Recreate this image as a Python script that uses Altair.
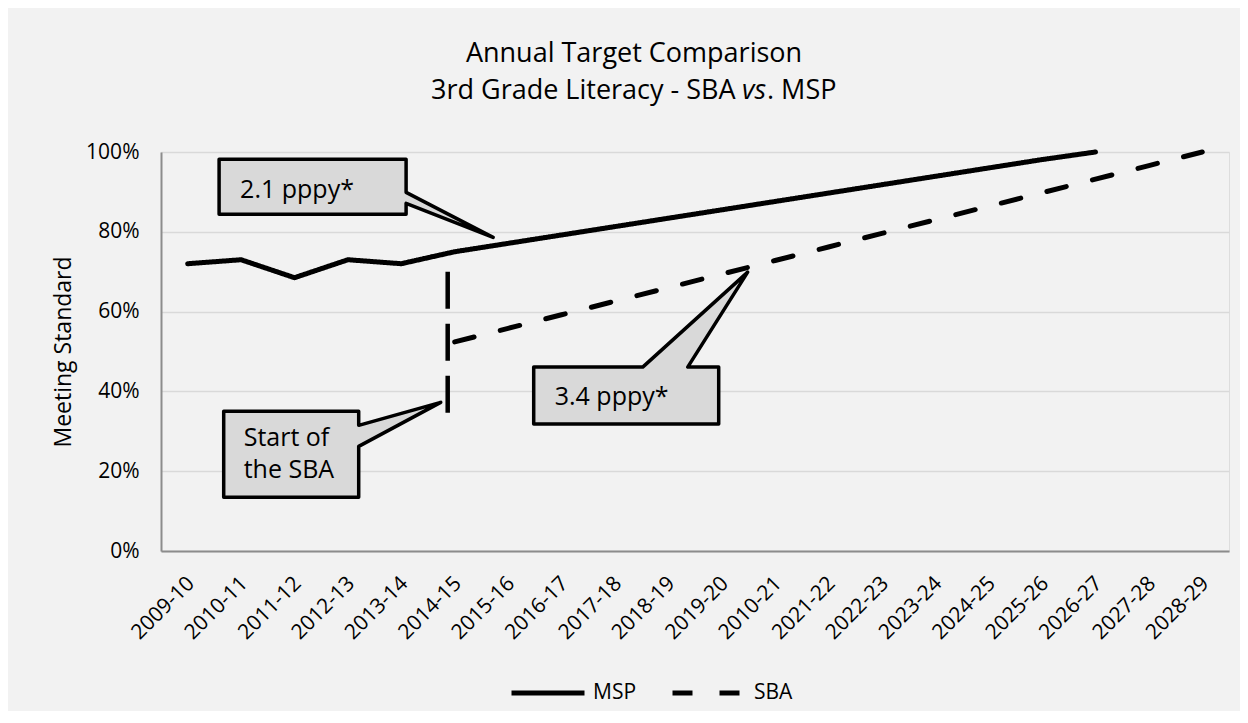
import altair as alt
import pandas as pd

# ---------------- data ----------------
years = ["2009-10", "2010-11", "2011-12", "2012-13", "2013-14", "2014-15",
         "2015-16", "2016-17", "2017-18", "2018-19", "2019-20", "2010-21",
         "2021-22", "2022-23", "2023-24", "2024-25", "2025-26", "2026-27",
         "2027-28", "2028-29"]
msp = [72, 73, 68.5, 73, 72, 75, 77.1, 79.2, 81.3, 83.4, 85.5, 87.6, 89.7,
       91.8, 93.9, 96.0, 98.1, 100, None, None]
sba = [None, None, None, None, None, 52.4, 55.8, 59.2, 62.6, 66.0, 69.4,
       72.8, 76.2, 79.6, 83.0, 86.4, 89.8, 93.2, 96.6, 100.0]
series_names = ["MSP", "SBA"]

title_line1 = "Annual Target Comparison"
title_line2_parts = ["3rd Grade Literacy - SBA ", "vs", ". MSP"]
title_line2_styles = ["normal", "italic", "normal"]

# SBA start marker (vertical dashed line)
sba_start_year = ["2014-15"]
sba_start_high = [70]
sba_start_low = [34]

# callouts: anchor category / value and text
callout_years = ["2015-16", "2019-20", "2014-15"]
callout_values = [77.1, 69.4, 34]
callout_texts = ["2.1 pppy*", "3.4 pppy*", ["Start of", "the SBA"]]

rows = []
for i, y in enumerate(years):
    if msp[i] is not None:
        rows.append({"year": y, "value": msp[i], "series": "MSP", "idx": i})
    if sba[i] is not None:
        rows.append({"year": y, "value": sba[i], "series": "SBA", "idx": i})
df = pd.DataFrame(rows)

df_rule = pd.DataFrame({"year": sba_start_year, "value": sba_start_high,
                        "low": sba_start_low})

FONT = "Open Sans"

x_enc = alt.X(
    "year:O", sort=years,
    scale=alt.Scale(type="point", domain=years, padding=0.5),
    axis=alt.Axis(title=None, labelAngle=315, labelAlign="right",
                  labelBaseline="middle", labelPadding=29, labelFontSize=21,
                  labelFont=FONT, labelColor="black", ticks=False,
                  domainColor="#8c8c8c", domainWidth=2, grid=False,
                  labelOverlap=False, labelOffset=3),
)
y_enc = alt.Y(
    "value:Q",
    scale=alt.Scale(domain=[0, 100], nice=False),
    axis=alt.Axis(values=[0, 20, 40, 60, 80, 100],
                  labelExpr="datum.value + '%'",
                  title="Meeting Standard", titleFontSize=23, titleFont=FONT,
                  titleFontWeight="normal", titleColor="black",
                  titleX=-98, titleY=199.5, titleAngle=270,
                  titleBaseline="middle", titleAlign="center",
                  labelFontSize=21, labelFont=FONT, labelColor="black",
                  labelPadding=22, ticks=False,
                  domainColor="#8c8c8c", domainWidth=2,
                  gridColor="#d9d9d9", gridWidth=1.5),
)

lines = alt.Chart(df).mark_line(
    color="black", strokeWidth=5, strokeCap="round", strokeJoin="round"
).encode(
    x=x_enc, y=y_enc,
    order="idx:Q",
    strokeDash=alt.StrokeDash(
        "series:N",
        scale=alt.Scale(domain=series_names, range=[[1, 0], [20, 27]]),
        legend=alt.Legend(title=None, orient="none", legendX=348, legendY=502,
                          direction="horizontal", symbolType="stroke",
                          symbolSize=5329, symbolStrokeWidth=5,
                          symbolStrokeColor="black", labelFontSize=21,
                          labelFont=FONT, labelColor="black", labelOffset=6,
                          columnPadding=25, padding=0),
    ),
)

rule = alt.Chart(df_rule).mark_rule(
    color="black", strokeWidth=4.5, strokeDash=[37, 15], xOffset=-7
).encode(x=x_enc, y=y_enc, y2="low:Q")

paths = [
    "M-289,-84 L-102,-84 L-102,-51 L-15,-6 L-102,-40 L-102,-29 L-289,-29 Z",
    "M-188,93 L-79,93 L26,-2 L-34,93 L-3,93 L-3,150 L-188,150 Z",
    "M-231,-4 L-96,-4 L-96,10 L-14,-13 L-96,31 L-96,82 L-231,82 Z",
]
text_offsets = [(-268, -45), (-167, 131), (-211, 31)]

layers = [lines, rule]
for i in range(3):
    d = pd.DataFrame({"year": [callout_years[i]], "value": [callout_values[i]]})
    box = alt.Chart(d).mark_point(
        shape=paths[i], size=4, filled=True, fill="#d9d9d9", stroke="black",
        strokeWidth=3.5, opacity=1, fillOpacity=1, strokeOpacity=1,
        strokeJoin="round",
    ).encode(x=x_enc, y=y_enc)
    txt = alt.Chart(d).mark_text(
        text=callout_texts[i], align="left", baseline="alphabetic",
        dx=text_offsets[i][0], dy=text_offsets[i][1], fontSize=25,
        font=FONT, color="black", lineHeight=31.6,
    ).encode(x=x_enc, y=y_enc)
    layers += [box, txt]

# chart title: first line centred, second line with italic "vs"
# (positions relative to the plot area's top-left corner)
dt1 = pd.DataFrame({"t": [title_line1]})
layers.append(
    alt.Chart(dt1).mark_text(
        align="center", baseline="alphabetic", fontSize=27, font=FONT,
        color="black",
    ).encode(text="t:N", x=alt.value(473), y=alt.value(-90))
)
part_x = [270, 581, 606]
for i in range(3):
    dt = pd.DataFrame({"t": [title_line2_parts[i]]})
    layers.append(
        alt.Chart(dt).mark_text(
            align="left", baseline="alphabetic", fontSize=27, font=FONT,
            fontStyle=title_line2_styles[i], color="black",
        ).encode(text="t:N", x=alt.value(part_x[i]), y=alt.value(-53))
    )

chart = alt.layer(*layers).properties(
    width=1068, height=399,
    autosize=alt.AutoSizeParams(type="none"),
    padding={"left": 153, "top": 144, "right": 11, "bottom": 160},
    background="#f2f2f2",
).configure_view(strokeWidth=0).configure(font=FONT)

chart.save("out.html", embed_options={"renderer": "svg", "actions": False})
